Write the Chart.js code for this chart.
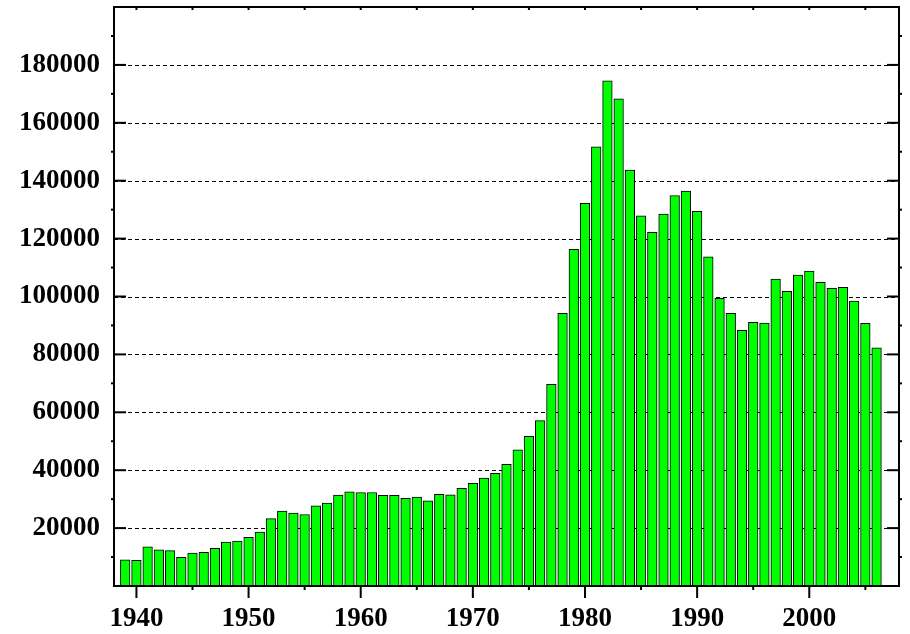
<!DOCTYPE html>
<html>
<head>
<meta charset="utf-8">
<script src="https://cdn.jsdelivr.net/npm/chart.js@4/dist/chart.umd.min.js"></script>
<style>
  html, body { margin: 0; padding: 0; background: #fff; }
  #wrap { width: 910px; height: 634px; }
</style>
</head>
<body>
<div id="wrap"><canvas id="bar_chart" width="910" height="634"></canvas></div>
<script>
// years on the x axis, one bar per year
const years = [1939, 1940, 1941, 1942, 1943, 1944, 1945, 1946, 1947, 1948, 1949,
    1950, 1951, 1952, 1953, 1954, 1955, 1956, 1957, 1958, 1959,
    1960, 1961, 1962, 1963, 1964, 1965, 1966, 1967, 1968, 1969,
    1970, 1971, 1972, 1973, 1974, 1975, 1976, 1977, 1978, 1979,
    1980, 1981, 1982, 1983, 1984, 1985, 1986, 1987, 1988, 1989,
    1990, 1991, 1992, 1993, 1994, 1995, 1996, 1997, 1998, 1999,
    2000, 2001, 2002, 2003, 2004, 2005, 2006];
const values = [9000, 8900, 13500, 12500, 12200, 9900, 11400, 11600, 13000, 15200, 15500,
    16800, 18600, 23300, 25900, 25200, 24700, 27700, 28600, 31400, 32500,
    32300, 32300, 31300, 31300, 30300, 30700, 29400, 31700, 31500, 33700,
    35500, 37300, 38900, 42000, 47000, 51700, 57100, 69700, 94200, 116300,
    132200, 151700, 174500, 168300, 143700, 127900, 122200, 128500, 134900, 136400,
    129400, 113700, 99400, 94200, 88300, 91100, 90800, 106000, 101800, 107400,
    108800, 104900, 102800, 103200, 98400, 90700, 82300];
const xTickLabels = [1940, 1950, 1960, 1970, 1980, 1990, 2000];
const xMinorTicks = [1945, 1955, 1965, 1975, 1985, 1995, 2005];
const yTickLabels = [20000, 40000, 60000, 80000, 100000, 120000, 140000, 160000, 180000];
const yMinorTicks = [10000, 30000, 50000, 70000, 90000, 110000, 130000, 150000, 170000, 190000];

const labelFont = { family: "'Liberation Serif', 'Times New Roman', serif", size: 27, weight: 'bold' };

// dashed grid behind the bars, then frame + tick marks on top
const frameTicks = {
    id: 'frameTicks',
    beforeDatasetsDraw(chart) {
        const { ctx, chartArea: a, scales: { y } } = chart;
        ctx.save();
        ctx.strokeStyle = '#000';
        ctx.lineWidth = 1;
        ctx.setLineDash([4, 3]);
        for (let v of yTickLabels) {
            const py = Math.round(y.getPixelForValue(v)) + 0.5;
            ctx.beginPath();
            ctx.moveTo(a.left, py);
            ctx.lineTo(a.right, py);
            ctx.stroke();
        }
        ctx.restore();
    },
    afterDatasetsDraw(chart) {
        const { ctx, chartArea: a, scales: { x, y } } = chart;
        ctx.save();
        ctx.strokeStyle = '#000';
        ctx.lineWidth = 2;
        ctx.setLineDash([]);
        ctx.strokeRect(a.left, a.top, a.right - a.left, a.bottom - a.top);
        const seg = (x1, y1, x2, y2) => {
            ctx.beginPath();
            ctx.moveTo(x1, y1);
            ctx.lineTo(x2, y2);
            ctx.stroke();
        };
        // y axis: major ticks inward, minor ones small outward
        for (let v of [0].concat(yTickLabels)) {
            const py = y.getPixelForValue(v);
            seg(a.left, py, a.left + 12, py);
            seg(a.right, py, a.right - 12, py);
        }
        for (let v of yMinorTicks) {
            const py = y.getPixelForValue(v);
            seg(a.left - 3, py, a.left, py);
            seg(a.right, py, a.right + 3, py);
        }
        // x axis: ticks pointing down, small ones on top
        for (let v of xTickLabels) {
            const px = x.getPixelForValue(v);
            seg(px, a.bottom, px, a.bottom + 12);
            seg(px, a.top, px, a.top + 3);
        }
        for (let v of xMinorTicks) {
            const px = x.getPixelForValue(v);
            seg(px, a.bottom, px, a.bottom + 4);
            seg(px, a.top, px, a.top + 3);
        }
        ctx.restore();
    }
};

const bar_ctx = document.getElementById("bar_chart").getContext("2d");
const bar_chart = new Chart(bar_ctx, {
    type: "bar",
    data: {
        labels: years,
        datasets: [{
            data: values,
            backgroundColor: '#00ff00',
            borderColor: '#000',
            borderWidth: 1,
            borderSkipped: false,
            barThickness: 9.6
        }]
    },
    options: {
        responsive: false,
        animation: false,
        layout: { padding: { top: 7, right: 11, left: 0, bottom: 0 } },
        plugins: {
            legend: { display: false },
            tooltip: { enabled: false }
        },
        scales: {
            x: {
                type: 'linear',
                min: 1938,
                max: 2008,
                offset: false,
                afterBuildTicks: (s) => { s.ticks = xTickLabels.map(v => ({ value: v })); },
                afterFit: (s) => { s.height = 48; s.paddingLeft = 0; s.paddingRight = 0; },
                grid: { display: false },
                border: { display: false },
                ticks: {
                    color: '#000',
                    font: labelFont,
                    padding: 9,
                    maxRotation: 0,
                    callback: (v) => String(v)
                }
            },
            y: {
                min: 0,
                max: 200000,
                afterBuildTicks: (s) => { s.ticks = yTickLabels.map(v => ({ value: v })); },
                afterFit: (s) => { s.width = 114; s.paddingTop = 0; s.paddingBottom = 0; },
                grid: { display: false },
                border: { display: false },
                ticks: {
                    color: '#000',
                    font: labelFont,
                    padding: 6,
                    callback: (v) => String(v)
                }
            }
        }
    },
    plugins: [frameTicks]
});
</script>
</body>
</html>
